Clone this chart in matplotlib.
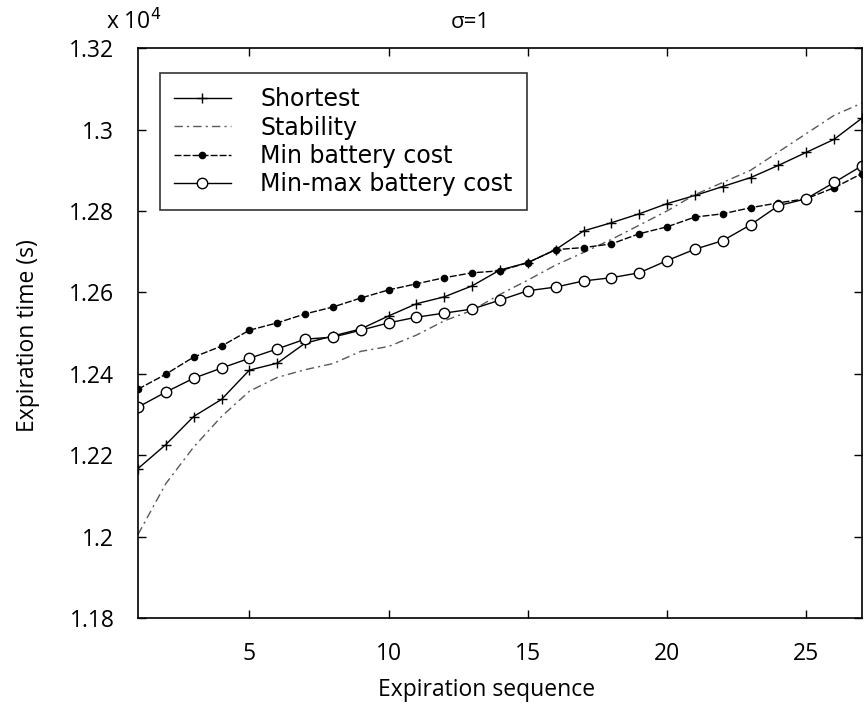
import matplotlib
matplotlib.use('Agg')
import matplotlib.pyplot as plt
from matplotlib.ticker import FuncFormatter
import numpy as np

plt.rcParams['font.family'] = ['Open Sans', 'DejaVu Sans']

# expiration sequence index
seq = np.arange(1, 28)

# expiration times in seconds
shortest = [12167, 12226, 12295, 12337, 12409, 12426, 12475, 12493, 12510,
            12542, 12572, 12589, 12616, 12655, 12673, 12705, 12751, 12771,
            12793, 12818, 12838, 12860, 12882, 12912, 12944, 12976, 13028]
stability = [12005, 12130, 12220, 12295, 12357, 12391, 12410, 12425, 12455,
             12467, 12495, 12530, 12556, 12595, 12630, 12667, 12698, 12730,
             12765, 12800, 12840, 12870, 12900, 12945, 12990, 13035, 13065]
min_batt = [12362, 12399, 12441, 12468, 12507, 12525, 12547, 12564, 12586,
            12606, 12621, 12636, 12648, 12653, 12673, 12705, 12710, 12719,
            12744, 12761, 12785, 12793, 12808, 12820, 12830, 12857, 12892]
minmax_batt = [12318, 12355, 12389, 12414, 12438, 12461, 12485, 12490, 12507,
               12525, 12539, 12549, 12559, 12581, 12604, 12613, 12628, 12636,
               12648, 12678, 12706, 12727, 12766, 12813, 12830, 12870, 12911]

labels = ['Shortest', 'Stability', 'Min battery cost', 'Min-max battery cost']
xticks = [5, 10, 15, 20, 25]
yticks = [11800, 12000, 12200, 12400, 12600, 12800, 13000, 13200]

fig = plt.figure(figsize=(8.65, 7.07), dpi=100)
ax = fig.add_axes([0.1595, 0.1259, 0.837, 0.806])

ax.plot(seq, shortest, color='black', lw=1.0, marker='+', ms=7, mew=1.0,
        label=labels[0])
ax.plot(seq, stability, color='0.35', lw=1.0, ls=(0, (6, 3, 1.5, 3)),
        label=labels[1])
ax.plot(seq, min_batt, color='black', lw=1.0, ls=(0, (5, 1.5)), marker='o',
        ms=4.5, mfc='black', label=labels[2])
ax.plot(seq, minmax_batt, color='black', lw=1.0, marker='o', ms=7.5,
        mfc='white', mew=1.0, label=labels[3])

ax.set_xlim(1, 27)
ax.set_ylim(11800, 13200)
ax.set_xticks(xticks)
ax.set_yticks(yticks)
ax.yaxis.set_major_formatter(FuncFormatter(lambda v, p: '%g' % round(v / 1e4, 2)))
ax.tick_params(direction='in', top=True, right=True, length=6, width=1,
               labelsize=16.5)
ax.tick_params(axis='y', pad=17)
ax.tick_params(axis='x', pad=17)
for s in ax.spines.values():
    s.set_linewidth(1.2)

ax.set_xlabel('Expiration sequence', fontsize=16.5)
ax.set_ylabel('Expiration time (s)', fontsize=16.5)
ax.xaxis.set_label_coords(0.482, -0.106)
ax.yaxis.set_label_coords(-0.135, 0.496)
fig.text(470 / 865, 1 - 22 / 707, 'σ=1', fontsize=16, ha='center', va='center')
fig.text(106 / 865, 1 - 22 / 707, 'x 10$^4$', fontsize=16.5, ha='left', va='center')

leg = ax.legend(loc='upper left', bbox_to_anchor=(0.03, 0.956),
                prop={'family': 'DejaVu Sans', 'size': 17},
                numpoints=1, frameon=True, fancybox=False, edgecolor='black',
                handlelength=2.4, handletextpad=1.25, labelspacing=0.18,
                borderpad=0.6, borderaxespad=0)
leg.get_frame().set_linewidth(1.2)

fig.savefig('out.png', dpi=100)
